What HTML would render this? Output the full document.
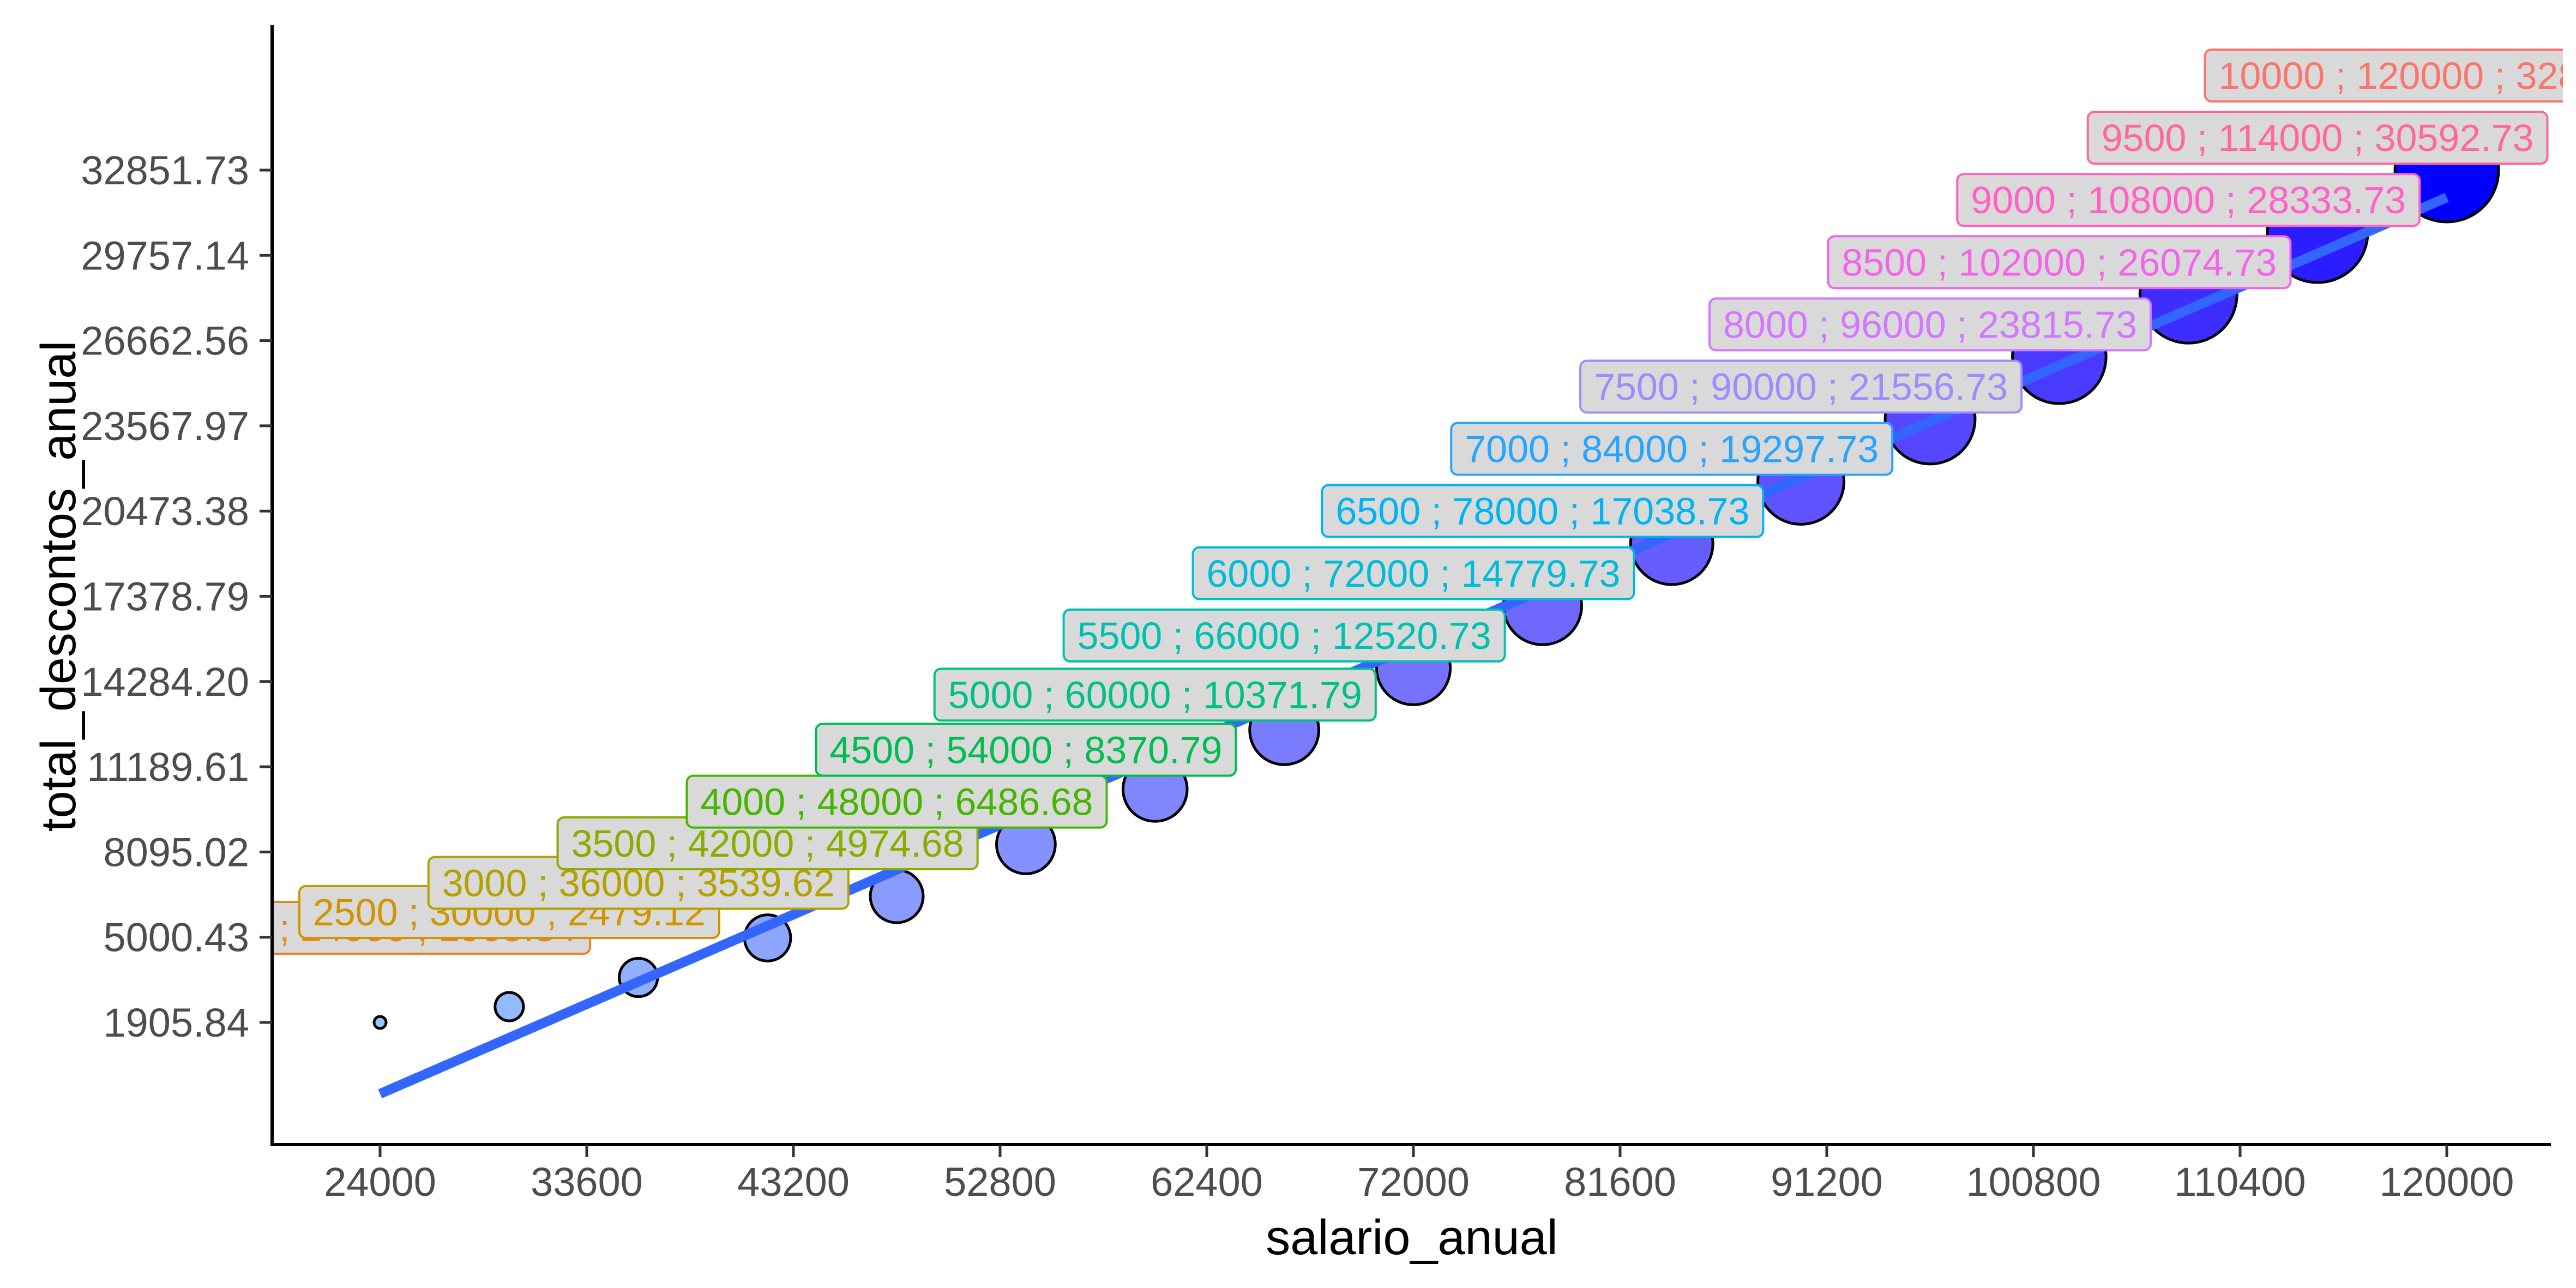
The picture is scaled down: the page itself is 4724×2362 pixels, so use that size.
<!DOCTYPE html>
<html><head><meta charset="utf-8"><style>
html,body{margin:0;padding:0;background:#fff;}
svg{display:block;font-family:"Liberation Sans",Arial,sans-serif;}
</style></head><body>
<svg id="chart" width="4724" height="2362" viewBox="0 0 4724 2362" xmlns="http://www.w3.org/2000/svg">
<defs><clipPath id="panelClip"><rect x="500" y="46" width="4200" height="2053"/></clipPath></defs>
<g id="panel" clip-path="url(#panelClip)">
<g id="points"></g>
<g id="fit"></g>
<g id="labels"></g>
</g>
<g id="axes"></g>
<text x="2589" y="2300" font-size="90" text-anchor="middle" fill="#000">salario_anual</text>
<text transform="translate(138,1075) rotate(-90)" font-size="90" text-anchor="middle" fill="#000">total_descontos_anual</text>
</svg>
<script>
const monthly = [2000,2500,3000,3500,4000,4500,5000,5500,6000,6500,7000,7500,8000,8500,9000,9500,10000];
const salaries = [24000,30000,36000,42000,48000,54000,60000,66000,72000,78000,84000,90000,96000,102000,108000,114000,120000];
const descontos = [1905.84,2479.12,3539.62,4974.68,6486.68,8370.79,10371.79,12520.73,14779.73,17038.73,19297.73,21556.73,23815.73,26074.73,28333.73,30592.73,32851.73];
const xTicks = [24000,33600,43200,52800,62400,72000,81600,91200,100800,110400,120000];
const yTicks = [1905.84,5000.43,8095.02,11189.61,14284.20,17378.79,20473.38,23567.97,26662.56,29757.14,32851.73];
const yTickLabels = ["1905.84","5000.43","8095.02","11189.61","14284.20","17378.79","20473.38","23567.97","26662.56","29757.14","32851.73"];

const NS="http://www.w3.org/2000/svg";
function xs(v){return 697+(v-24000)*379/9600;}
function ys(v){return 312+(32851.73-v)*156.3/3094.59;}
function mk(tag,attrs,parent){const e=document.createElementNS(NS,tag);for(const k in attrs)e.setAttribute(k,attrs[k]);parent.appendChild(e);return e;}

function lin(c){c/=255;return c<=0.04045?c/12.92:Math.pow((c+0.055)/1.055,2.4);}
function gam(c){c=c<=0.0031308?12.92*c:1.055*Math.pow(c,1/2.4)-0.055;return Math.max(0,Math.min(255,Math.round(c*255)));}
const Xn=0.95047,Yn=1,Zn=1.08883;
function xyz2rgb(X,Y,Z){
 const r=3.2406*X-1.5372*Y-0.4986*Z,g=-0.9689*X+1.8758*Y+0.0415*Z,bb=0.0557*X-0.2040*Y+1.0570*Z;
 return "rgb("+gam(r)+","+gam(g)+","+gam(bb)+")";}
function rgb2lab(r,g,b){r=lin(r);g=lin(g);b=lin(b);
 let X=(r*0.4124+g*0.3576+b*0.1805)/Xn,Y=(r*0.2126+g*0.7152+b*0.0722)/Yn,Z=(r*0.0193+g*0.1192+b*0.9505)/Zn;
 const f=t=>t>0.008856?Math.cbrt(t):7.787*t+16/116;
 return [116*f(Y)-16,500*(f(X)-f(Y)),200*(f(Y)-f(Z))];}
function lab2rgb(L,a,b){const fy=(L+16)/116,fx=fy+a/500,fz=fy-b/200;
 const fi=t=>t*t*t>0.008856?t*t*t:(t-16/116)/7.787;
 return xyz2rgb(fi(fx)*Xn,fi(fy)*Yn,fi(fz)*Zn);}
function hcl(h,c,l){
 const r=h*Math.PI/180,u=c*Math.cos(r),v=c*Math.sin(r);
 const Y=l>8?Math.pow((l+16)/116,3):l/903.3;
 const un=4*Xn/(Xn+15*Yn+3*Zn),vn=9*Yn/(Xn+15*Yn+3*Zn);
 const up=u/(13*l)+un,vp=v/(13*l)+vn;
 const X=Y*9*up/(4*vp),Z=Y*(12-3*up-20*vp)/(4*vp);
 return xyz2rgb(X,Y,Z);}
const lowLab=rgb2lab(150,196,251), highLab=rgb2lab(0,0,255);
function fillFor(t){return lab2rgb(lowLab[0]+(highLab[0]-lowLab[0])*t,lowLab[1]+(highLab[1]-lowLab[1])*t,lowLab[2]+(highLab[2]-lowLab[2])*t);}

const pg=document.getElementById('points');
const xmin=Math.min(...salaries),xmax=Math.max(...salaries);
salaries.forEach((s,i)=>{
 const t=(s-xmin)/(xmax-xmin);
 const r=Math.sqrt(121+t*(9025-121));
 const c=mk('circle',{cx:xs(s),cy:ys(descontos[i]),r:r,fill:fillFor(t),stroke:'#000','stroke-width':5},pg);
 
 
});

const n=salaries.length;
const mx=salaries.reduce((a,b)=>a+b,0)/n,my=descontos.reduce((a,b)=>a+b,0)/n;
let sxy=0,sxx=0;salaries.forEach((s,i)=>{sxy+=(s-mx)*(descontos[i]-my);sxx+=(s-mx)*(s-mx);});
const slope=sxy/sxx,icpt=my-slope*mx;
const fl=mk('line',{x1:xs(xmin),y1:ys(icpt+slope*xmin),x2:xs(xmax),y2:ys(icpt+slope*xmax),stroke:'#3366FF','stroke-width':18},document.getElementById('fit'));



const lg=document.getElementById('labels');
const levels=monthly.map(String).slice().sort();
const nudge=3445;
monthly.forEach((m,i)=>{
 const idx=levels.indexOf(String(m));
 const col=hcl(15+idx*360/levels.length,100,65);
 const g=mk('g',{},lg);
 
 
 const cx=xs(salaries[i]),cy=ys(descontos[i]+nudge);
 const rect=mk('rect',{y:cy-47,height:95,rx:12,ry:12,fill:'#d9d9d9',stroke:col,'stroke-width':4},g);
 const txt=mk('text',{x:cx,y:cy+25,'font-size':70,'text-anchor':'middle',fill:col},g);
 txt.textContent=m+" ; "+salaries[i]+" ; "+descontos[i].toFixed(2);
 let w;try{w=txt.getComputedTextLength();}catch(e){w=0;}
 if(!w)w=txt.textContent.length*35;
 rect.setAttribute('x',cx-w/2-25);rect.setAttribute('width',w+50);
});

const ax=document.getElementById('axes');
const yl=mk('line',{x1:499,y1:46,x2:499,y2:2102,stroke:'#000','stroke-width':6},ax);


const xl=mk('line',{x1:496,y1:2099,x2:4678,y2:2099,stroke:'#000','stroke-width':6},ax);


yTicks.forEach((v,i)=>{
 const y=ys(v);
 const tk=mk('line',{x1:476,y1:y,x2:499,y2:y,stroke:'#333','stroke-width':5},ax);
 
 
 const t=mk('text',{x:457,y:y+26,'font-size':74,'text-anchor':'end',fill:'#4d4d4d'},ax);
 
 
 t.textContent=yTickLabels[i];
});
xTicks.forEach(v=>{
 const x=xs(v);
 const tk=mk('line',{x1:x,y1:2099,x2:x,y2:2122,stroke:'#333','stroke-width':5},ax);
 
 
 const t=mk('text',{x:x,y:2193,'font-size':74,'text-anchor':'middle',fill:'#4d4d4d'},ax);
 
 
 t.textContent=String(v);
});
</script>
</body></html>
